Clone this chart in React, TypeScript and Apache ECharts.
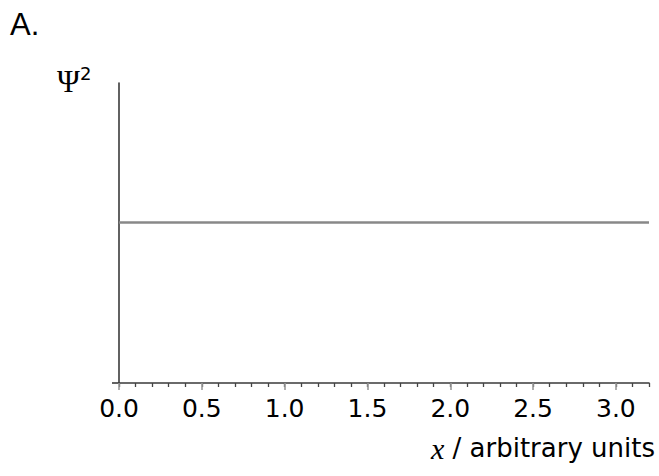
import React, { useEffect, useRef } from "react";
import * as echarts from "echarts";

const xPoints = [0, 3.2];
const psiSquared = [0.535, 0.535];
const majorTicks = [0, 0.5, 1.0, 1.5, 2.0, 2.5, 3.0];
const xMin = 0;
const xMax = 3.2;
const yMin = 0;
const yMax = 1;

export default function App() {
  const ref = useRef<HTMLDivElement>(null);
  useEffect(() => {
    if (!ref.current) return;
    const chart = echarts.init(ref.current, null, { renderer: "svg" });
    const font = "'Liberation Sans', Arial, sans-serif";
    const wide = "'DejaVu Sans', sans-serif";
    chart.setOption({
      animation: false,
      backgroundColor: "#ffffff",
      grid: { left: 119, top: 83, right: 10, bottom: 93, containLabel: false },
      xAxis: [
        {
          type: "value",
          min: xMin,
          max: xMax,
          interval: 0.1,
          axisLine: { show: true, onZero: false, lineStyle: { color: "#3a3a3a", width: 1.6 } },
          axisTick: { show: true, length: 4, lineStyle: { color: "#444", width: 1.3 } },
          axisLabel: {
            show: true,
            customValues: majorTicks,
            formatter: (v: number) => v.toFixed(1),
            fontSize: 25,
            fontFamily: wide,
            color: "#000",
            margin: 13,
          },
          splitLine: { show: false },
        },
        {
          type: "value",
          min: xMin,
          max: xMax,
          position: "bottom",
          offset: 0,
          axisLine: { show: false },
          axisTick: { show: true, customValues: majorTicks, length: 7, lineStyle: { color: "#9a9a9a", width: 1.6 } },
          axisLabel: { show: false },
          splitLine: { show: false },
        },
      ],
      yAxis: {
        type: "value",
        min: yMin,
        max: yMax,
        axisLine: { show: true, onZero: false, lineStyle: { color: "#3a3a3a", width: 1.6 } },
        axisTick: { show: true, customValues: [0], length: 7, lineStyle: { color: "#3a3a3a", width: 1.6 } },
        axisLabel: { show: false },
        splitLine: { show: false },
      },
      series: [
        {
          type: "line",
          xAxisIndex: 0,
          data: xPoints.map((x, i) => [x, psiSquared[i]]),
          showSymbol: false,
          symbol: "none",
          lineStyle: { color: "#888888", width: 2.5 },
        },
      ],
      graphic: [
        {
          type: "text",
          left: 10,
          top: 9,
          style: { text: "A.", font: `31px ${font}`, fill: "#000" },
        },
        {
          type: "text",
          left: 57,
          top: 66,
          style: { text: "Ψ", font: `31px 'Liberation Serif', 'Times New Roman', serif`, fill: "#000" },
        },
        {
          type: "text",
          left: 80,
          top: 64,
          style: { text: "2", font: `18px ${wide}`, fill: "#000" },
        },
        {
          type: "text",
          right: 4,
          top: 433,
          style: {
            text: "{i|x} / arbitrary units",
            font: `26px ${wide}`,
            fill: "#000",
            rich: {
              i: { fontFamily: "'Liberation Serif', 'Times New Roman', serif", fontStyle: "italic", fontSize: 30, fill: "#000" },
            },
          },
        },
      ],
    });
    return () => chart.dispose();
  }, []);
  return <div ref={ref} style={{ width: 659, height: 476, position: "absolute", left: 0, top: 0 }} />;
}
